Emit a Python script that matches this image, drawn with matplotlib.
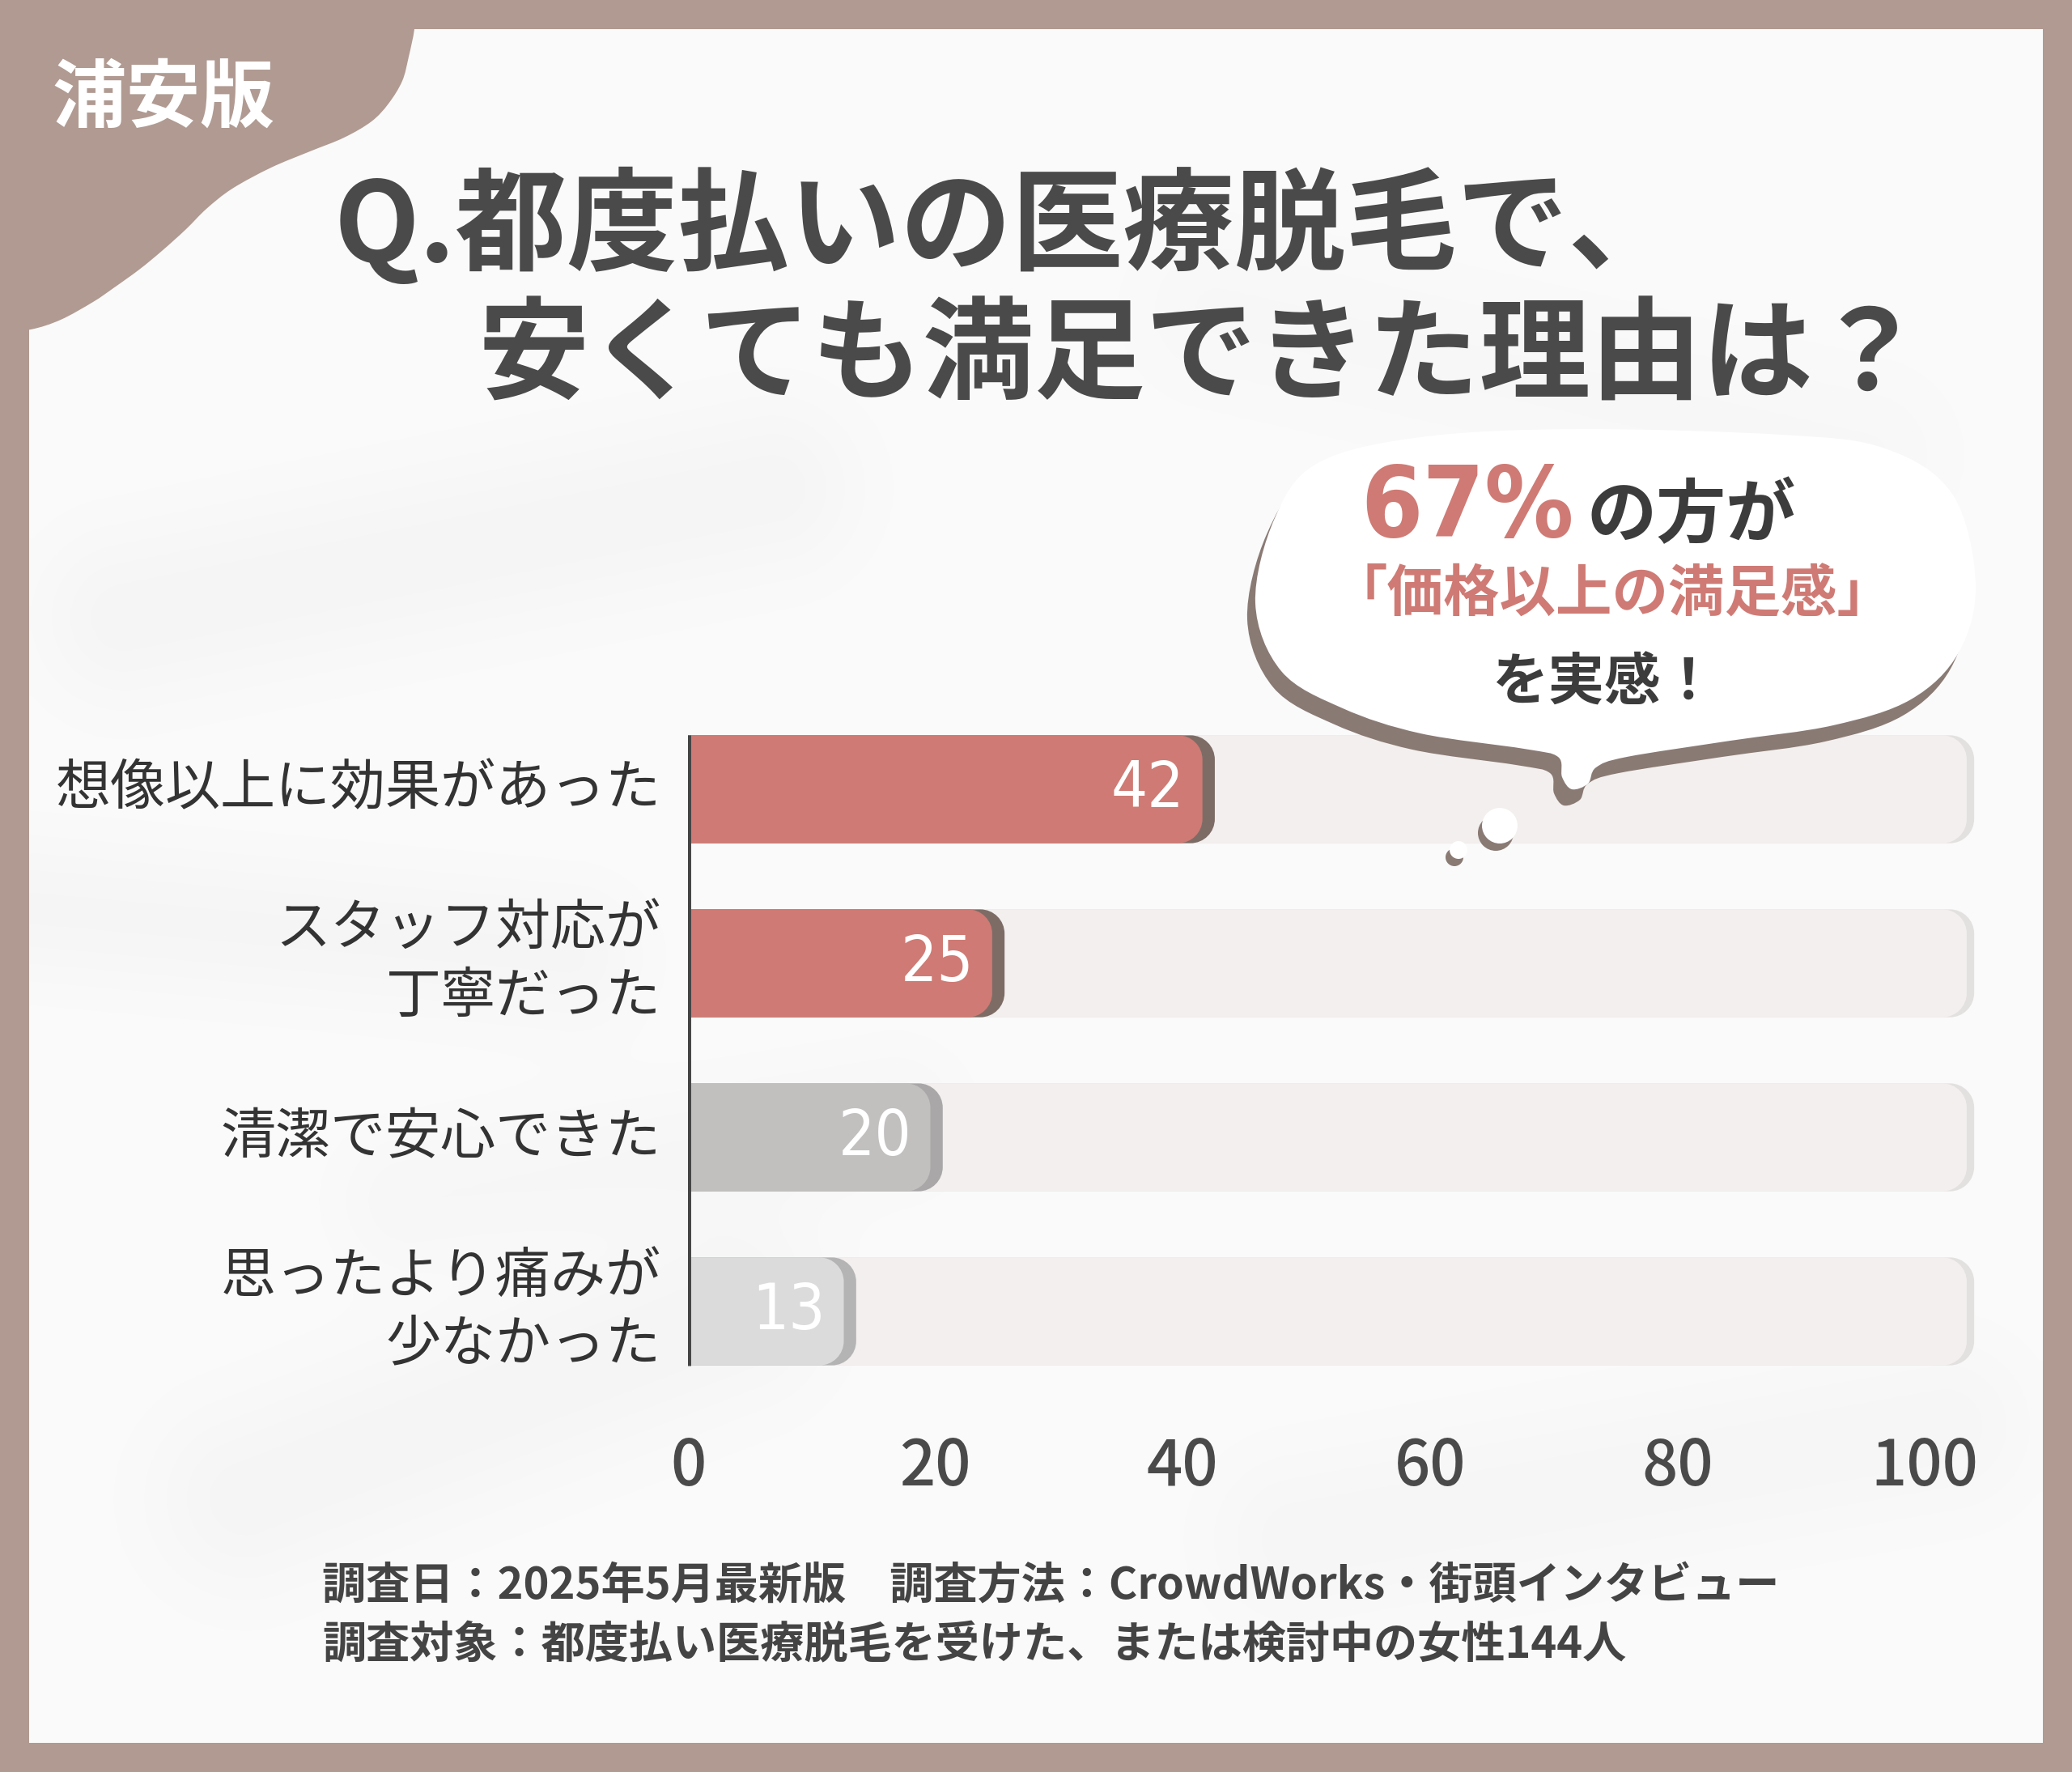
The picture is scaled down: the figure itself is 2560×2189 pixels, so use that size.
import numpy as np
import matplotlib
matplotlib.use("Agg")
import matplotlib.pyplot as plt
from matplotlib import font_manager as fm
from matplotlib.path import Path
from matplotlib.patches import PathPatch, Circle

plt.rcParams['font.family'] = ['Noto Sans CJK JP', 'DejaVu Sans']

# data
categories = ["想像以上に効果があった", "スタッフ対応が\n丁寧だった", "清潔で安心できた", "思ったより痛みが\n少なかった"]
values = [42, 25, 20, 13]
bar_colors = ["#cf7a74", "#cf7a74", "#c2c0bf", "#dcdbdb"]
edge_colors = ["#7d6c66", "#7d6c66", "#a9a7a7", "#b5b4b4"]
xticks = [0, 20, 40, 60, 80, 100]
xtick_labels = ["0", "20", "40", "60", "80", "100"]
badge_text = "浦安版"
title_lines = ["Q.都度払いの医療脱毛で、", "安くても満足できた理由は？"]
bubble_pct = "67%"
bubble_rest = "の方が"
bubble_mid = "「価格以上の満足感」"
bubble_end = "を実感！"
footer_lines = ["調査日：2025年5月最新版　調査方法：CrowdWorks・街頭インタビュー",
                "調査対象：都度払い医療脱毛を受けた、または検討中の女性144人"]

W, H = 2560, 2189
BORDER = "#b09a92"
DARK = "#4a4a4a"
RED = "#cf7a74"


# narrow font for the numbers, if one is installed
def pick_font(keys, fallback):
    for key in keys:
        for f in fm.fontManager.ttflist:
            if key in f.fname.replace(' ', ''):
                return fm.FontProperties(fname=f.fname)
    return fm.FontProperties(family=fallback)


num_reg = pick_font(["LiberationSansNarrow-Regular", "DejaVuSansCondensed.ttf",
                     "RobotoCondensed-Regular"], "Noto Sans CJK JP")
num_bold = pick_font(["LiberationSansNarrow-Bold.", "DejaVuSansCondensed-Bold",
                      "RobotoCondensed-Bold"], "Noto Sans CJK JP")
if num_bold.get_file() is None:
    num_bold.set_weight('bold')


def smooth(pts, closed=True):
    # catmull-rom -> bezier
    pts = np.asarray(pts, float)
    n = len(pts)
    verts = [pts[0]]
    codes = [Path.MOVETO]
    rng = range(n) if closed else range(n - 1)
    for i in rng:
        p0 = pts[(i - 1) % n] if (closed or i > 0) else pts[i]
        p1 = pts[i]
        p2 = pts[(i + 1) % n]
        p3 = pts[(i + 2) % n] if (closed or i + 2 < n) else pts[i + 1]
        verts += [p1 + (p2 - p0) / 6, p2 - (p3 - p1) / 6, p2]
        codes += [Path.CURVE4] * 3
    return verts, codes


fig = plt.figure(figsize=(W / 100, H / 100), dpi=100)
fig.patch.set_facecolor(BORDER)

# background layer (pixel coords)
bg = fig.add_axes([0, 0, 1, 1])
bg.set_xlim(0, W)
bg.set_ylim(H, 0)
bg.axis('off')

gy, gx = np.mgrid[36:H - 36:8, 36:W - 36:8]
tex = np.full(gx.shape, 0.98)


def streak(x1, y1, x2, y2, w, d):
    dx, dy = x2 - x1, y2 - y1
    t = np.clip(((gx - x1) * dx + (gy - y1) * dy) / (dx * dx + dy * dy), 0, 1)
    dist = np.hypot(gx - (x1 + t * dx), gy - (y1 + t * dy))
    return d * np.exp(-(dist / w) ** 2)


for s in [(150, 760, 950, 600, 110, 0.022), (40, 1120, 700, 1180, 90, 0.02),
          (300, 1850, 900, 1620, 120, 0.022), (1600, 1900, 2400, 1760, 110, 0.018),
          (500, 1480, 1100, 1380, 90, 0.015), (1500, 380, 2300, 560, 110, 0.012)]:
    tex -= streak(*s)
bg.imshow(tex, cmap='gray', vmin=0, vmax=1, extent=(36, W - 36, H - 36, 36),
          interpolation='bilinear', aspect='auto', zorder=0)

# corner badge
badge_pts = [(515, 0), (512, 36), (505, 70), (497, 100), (480, 128), (459, 150),
             (425, 170), (383, 187), (335, 207), (287, 233), (255, 258), (230, 283),
             (200, 310), (172, 333), (140, 356), (115, 373), (75, 395), (38, 407), (0, 410)]
v, c = smooth(badge_pts, closed=False)
v += [(0, 0), (0, 0)]
c += [Path.LINETO, Path.CLOSEPOLY]
bg.add_patch(PathPatch(Path(v, c), facecolor=BORDER, edgecolor='none', zorder=2))
bg.text(64, 123, badge_text, color='white', fontsize=66, fontweight='bold',
        ha='left', va='center', zorder=3)

# title
bg.text(413, 280, title_lines[0], color=DARK, fontsize=99, fontweight='bold', ha='left', va='center')
bg.text(591, 443, title_lines[1], color=DARK, fontsize=99, fontweight='bold', ha='left', va='center')

# footer
bg.text(398, 1959, footer_lines[0], color='#444444', fontsize=39, fontweight='bold', ha='left', va='center')
bg.text(398, 2033, footer_lines[1], color='#444444', fontsize=39, fontweight='bold', ha='left', va='center')

# chart
PX, PY = 15.28, 215.0
ax = fig.add_axes([850 / W, (H - 1727.5) / H, 105 * PX / W, 860 / H])
ax.set_xlim(0, 105)
ax.set_ylim(3.5, -0.5)
ax.patch.set_alpha(0)
for sp in ax.spines.values():
    sp.set_visible(False)

BH = 0.62
RX, RY = 30 / PX, 30 / PY


def rbar(x1, yc, color, z):
    yb, yt = yc - BH / 2, yc + BH / 2
    k = 0.5523
    rx = min(RX, x1)
    verts = [(0, yb), (x1 - rx, yb),
             (x1 - rx + k * rx, yb), (x1, yb + RY - k * RY), (x1, yb + RY),
             (x1, yt - RY),
             (x1, yt - RY + k * RY), (x1 - rx + k * rx, yt), (x1 - rx, yt),
             (0, yt), (0, yb)]
    codes = [Path.MOVETO, Path.LINETO, Path.CURVE4, Path.CURVE4, Path.CURVE4,
             Path.LINETO, Path.CURVE4, Path.CURVE4, Path.CURVE4, Path.LINETO, Path.CLOSEPOLY]
    ax.add_patch(PathPatch(Path(verts, codes), facecolor=color, edgecolor='none', zorder=z))


ypos = np.arange(len(values))
for i, val in enumerate(values):
    rbar(104.0, ypos[i], "#e3e1e0", 1)
    rbar(103.4, ypos[i], "#f2efee", 1.5)
    rbar(val + 0.6, ypos[i], edge_colors[i], 2)
    rbar(val - 0.4, ypos[i], bar_colors[i], 2.5)
    ax.text(val - 1.9, ypos[i], str(val), color='white', fontproperties=num_reg, fontsize=57,
            ha='right', va='center', zorder=4)

ax.vlines(0, ypos[0] - BH / 2, ypos[-1] + BH / 2, color='#444444', lw=5, zorder=5)

ax.set_xticks(xticks)
ax.set_xticklabels(xtick_labels, fontsize=56, color=DARK, fontweight='medium')
ax.set_yticks(ypos)
ax.set_yticklabels(categories, fontsize=49, color='#333333', linespacing=1.25)
for t in ax.get_yticklabels():
    t.set_va('center')
ax.tick_params(axis='x', length=0, pad=33)
ax.tick_params(axis='y', length=0, pad=24)

# speech bubble on top
top = fig.add_axes([0, 0, 1, 1])
top.set_xlim(0, W)
top.set_ylim(H, 0)
top.axis('off')
top.patch.set_alpha(0)

bubble_pts = [(1551, 745), (1575, 640), (1628, 572), (1755, 540), (1946, 530), (2202, 537),
              (2329, 554), (2412, 610), (2441, 720), (2420, 806), (2361, 864), (2265, 896),
              (2138, 915), (2010, 935), (1972, 948), (1962, 968), (1942, 975), (1930, 960),
              (1925, 935), (1883, 925), (1755, 906), (1659, 875), (1583, 829)]
v, c = smooth(bubble_pts)
sh = np.array(v) + np.array([-10, 20])
top.add_patch(PathPatch(Path(sh, c), facecolor='#8a7a74', edgecolor='none', zorder=1))
top.add_patch(PathPatch(Path(v, c), facecolor='white', edgecolor='none', zorder=2))
for (cx, cy, r) in [(1853, 1020, 22), (1802, 1050, 11)]:
    top.add_patch(Circle((cx - 5, cy + 9), r, facecolor='#8a7a74', edgecolor='none', zorder=1))
    top.add_patch(Circle((cx, cy), r, facecolor='white', edgecolor='none', zorder=2))

top.text(1945, 663, bubble_pct, color=RED, fontproperties=num_bold, fontsize=88,
         ha='right', va='baseline', zorder=3)
top.text(1960, 663, bubble_rest, color='#3c3c3c', fontsize=62, fontweight='bold',
         ha='left', va='baseline', zorder=3)
top.text(1992, 735, bubble_mid, color=RED, fontsize=50, fontweight='bold',
         ha='center', va='center', zorder=3)
top.text(1982, 844, bubble_end, color='#3c3c3c', fontsize=50, fontweight='bold',
         ha='center', va='center', zorder=3)

fig.savefig("out.png", dpi=100, facecolor=fig.get_facecolor())
